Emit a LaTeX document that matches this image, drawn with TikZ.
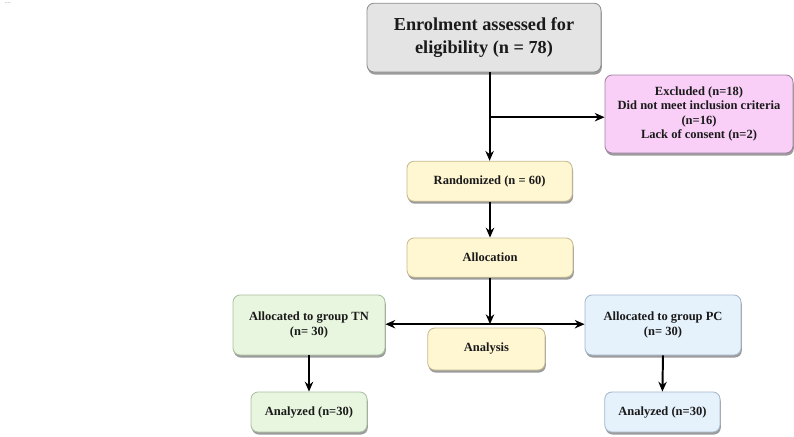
\documentclass[tikz,border=0pt]{standalone}
\usepackage{fontspec}
\setmainfont{Liberation Serif}
\usetikzlibrary{arrows.meta, positioning, calc, shadows}
\definecolor{enrFill}{HTML}{E4E4E4}
\definecolor{enrLine}{HTML}{8E8E8E}
\definecolor{excFill}{HTML}{F9CFF8}
\definecolor{excLine}{HTML}{A07FA0}
\definecolor{ranFill}{HTML}{FFF6D2}
\definecolor{ranLine}{HTML}{C6B98E}
\definecolor{tnFill}{HTML}{E9F6DF}
\definecolor{tnLine}{HTML}{A9BFA0}
\definecolor{pcFill}{HTML}{E5F1FB}
\definecolor{pcLine}{HTML}{A4B6C9}
\definecolor{boxText}{HTML}{1A1A1A}
\definecolor{shadowGray}{HTML}{7A7A7A}

\begin{document}
\begin{tikzpicture}[
  font=\bfseries,
  box/.style    ={rounded corners=5pt, draw, line width=0.6pt, align=center, inner sep=3pt,
                  text=boxText, font=\bfseries\fontsize{8.9}{10.4}\selectfont,
                  drop shadow={shadow xshift=0.6pt, shadow yshift=-1.8pt, fill=shadowGray, opacity=0.75}},
  enrol/.style  ={box, fill=enrFill, draw=enrLine, font=\bfseries\fontsize{13}{16.3}\selectfont,
                  minimum width=5.85cm, minimum height=1.72cm},
  excl/.style   ={box, fill=excFill, draw=excLine, minimum width=4.7cm, minimum height=1.95cm},
  rand/.style   ={box, fill=ranFill, draw=ranLine, minimum width=4.13cm, minimum height=1cm},
  grpTN/.style  ={box, fill=tnFill, draw=tnLine, minimum height=1.5cm},
  grpPC/.style  ={box, fill=pcFill, draw=pcLine, minimum height=1.5cm},
  flow/.style   ={-{Stealth[length=7pt, width=6pt]}, draw=black, line width=1.4pt},
  both/.style   ={{Stealth[length=7pt, width=6pt]}-{Stealth[length=7pt, width=6pt]}, draw=black, line width=1.4pt},
]
\useasboundingbox (0,0) rectangle (19.85,-10.9);

\node[anchor=north west, font=\fontsize{4}{4}\selectfont, text=black!60, inner sep=0pt]
  (DOTS) at (0.12,-0.05) {....};

% ----- Enrolment -----
\node[enrol] (ENROL) at (12.1, -0.94)
  {Enrolment assessed for\\eligibility (n = 78)};

\node[excl] (EXCL) at (17.475, -2.85)
  {Excluded (n=18)\\Did not meet inclusion criteria\\(n=16)\\Lack of consent (n=2)};

% ----- Randomization -----
\node[rand] (RAND) at (12.24, -4.53) {Randomized (n = 60)};
\node[rand, minimum width=4.15cm, minimum height=0.98cm] (ALLOC) at (12.25, -6.44) {Allocation};

% ----- Groups -----
\node[grpTN, minimum width=3.8cm] (TN) at (7.725, -8.125)
  {Allocated to group TN\\(n= 30)};
\node[grpPC, minimum width=3.9cm] (PC) at (16.575, -8.125)
  {Allocated to group PC\\(n= 30)};
\node[rand, minimum width=2.93cm, minimum height=1.05cm] (ANALYSIS) at (12.16, -8.725) {Analysis};

\node[grpTN, minimum width=2.9cm, minimum height=1cm] (ANTN) at (7.725, -10.3) {Analyzed (n=30)};
\node[grpPC, minimum width=2.88cm, minimum height=1cm] (ANPC) at (16.56, -10.3) {Analyzed (n=30)};

% ----- Arrows -----
\coordinate (topJoin) at ($(RAND.north |- ENROL.south)$);
\coordinate (exclJoin) at ($(RAND.north |- EXCL.west) + (0,-0.08)$);
\draw[flow] (topJoin) -- (RAND.north);
\draw[flow] (exclJoin) -- (exclJoin -| EXCL.west);
\draw[flow] (RAND.south -| ALLOC.north) -- (ALLOC.north);

\coordinate (grpJoin) at ($(ALLOC.south |- TN.east) + (0,0.02)$);
\draw[flow] (ALLOC.south) -- (grpJoin);
\draw[both] (TN.east |- grpJoin) -- (PC.west |- grpJoin);

\draw[flow] (TN.south) -- (ANTN.north);
\draw[flow] (PC.south) -- (ANPC.north);

\end{tikzpicture}
\end{document}
